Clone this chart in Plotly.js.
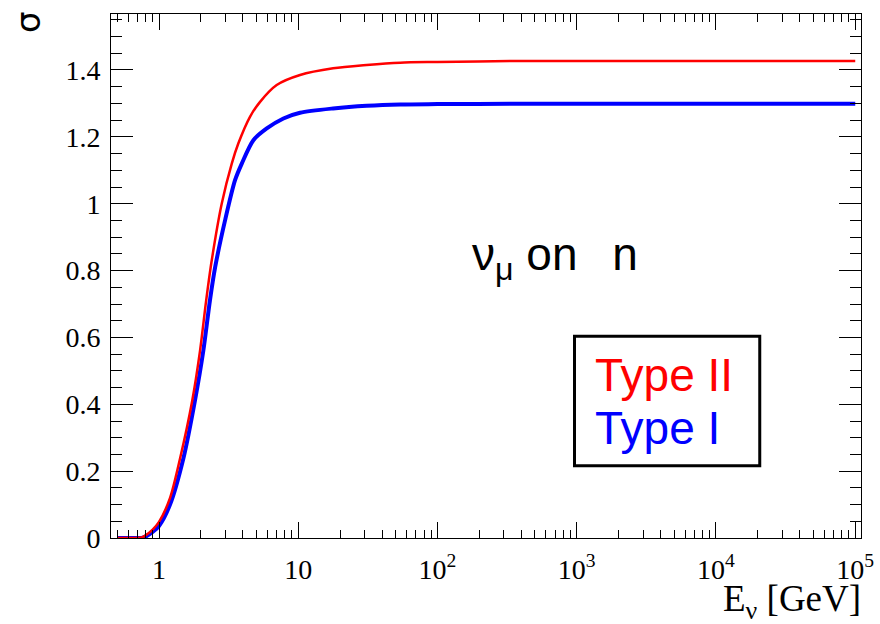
<!DOCTYPE html>
<html>
<head>
<meta charset="utf-8">
<script src="https://cdn.plot.ly/plotly-3.0.1.min.js"></script>
<style>html,body{margin:0;padding:0;background:#fff;}#chart{width:880px;height:624px;}</style>
</head>
<body>
<div id="chart"></div>
<script>
// Neutrino energy (GeV) and cross sections
const energyTypeII = [0.5, 0.6, 0.7, 0.75, 0.8, 0.9, 1.0, 1.2, 1.42, 1.73, 1.97, 2.18, 2.39, 2.82, 3.33, 3.71, 4.5, 5.3, 7.0, 10.3, 17.8, 31, 54, 100, 360, 1000, 10000, 100000];
const sigmaTypeII  = [0, 0, 0, 0.002, 0.008, 0.025, 0.048, 0.12, 0.24, 0.41, 0.56, 0.71, 0.83, 1.00, 1.12, 1.18, 1.26, 1.304, 1.355, 1.385, 1.405, 1.415, 1.422, 1.424, 1.427, 1.427, 1.427, 1.427];

const energyTypeI = [0.5, 0.6, 0.7, 0.75, 0.8, 0.9, 1.0, 1.2, 1.5, 1.81, 2.08, 2.32, 2.53, 2.98, 3.52, 3.93, 4.76, 5.94, 7.82, 10.3, 17.8, 31, 54, 100, 360, 1000, 10000, 100000];
const sigmaTypeI  = [0, 0, 0, 0, 0.004, 0.018, 0.036, 0.10, 0.24, 0.41, 0.56, 0.71, 0.81, 0.95, 1.071, 1.12, 1.19, 1.225, 1.255, 1.272, 1.285, 1.293, 1.297, 1.298, 1.299, 1.299, 1.299, 1.299];

const xTickVals = [1, 10, 100, 1000, 10000, 100000];
const xTickText = ['1', '10', '10<sup>2</sup>', '10<sup>3</sup>', '10<sup>4</sup>', '10<sup>5</sup>'];

const seriesNames = ['Type II', 'Type I'];
const seriesColors = ['#ff0000', '#0000ff'];

const traces = [
  {x: energyTypeI, y: sigmaTypeI, type: 'scatter', mode: 'lines', name: seriesNames[1],
   line: {color: seriesColors[1], width: 4, shape: 'spline', smoothing: 0.8}, showlegend: false},
  {x: energyTypeII, y: sigmaTypeII, type: 'scatter', mode: 'lines', name: seriesNames[0],
   line: {color: seriesColors[0], width: 2.5, shape: 'spline', smoothing: 0.8}, showlegend: false}
];

const serif = 'Liberation Serif, Times New Roman, serif';
const sans = 'Liberation Sans, Arial, sans-serif';

const layout = {
  width: 880, height: 624,
  margin: {l: 111, r: 19, t: 14, b: 86},
  paper_bgcolor: '#ffffff', plot_bgcolor: '#ffffff',
  showlegend: false,
  xaxis: {
    type: 'log', range: [Math.log10(0.452), Math.log10(1.1e5)],
    showgrid: false, zeroline: false,
    showline: true, linecolor: '#000', linewidth: 1, mirror: 'allticks',
    ticks: 'inside', ticklen: 16, tickwidth: 1, tickcolor: '#000',
    tickmode: 'array', tickvals: xTickVals, ticktext: xTickText,
    tickfont: {family: serif, size: 28, color: '#000'},
    ticklabelstandoff: 6,
    minor: {ticks: 'inside', ticklen: 8, tickwidth: 1, tickcolor: '#000', dtick: 'D1', showgrid: false}
  },
  yaxis: {
    range: [0, 1.5675],
    showgrid: false, zeroline: false,
    showline: true, linecolor: '#000', linewidth: 1, mirror: 'allticks',
    ticks: 'inside', ticklen: 22, tickwidth: 1, tickcolor: '#000',
    tick0: 0, dtick: 0.2,
    tickfont: {family: serif, size: 28, color: '#000'},
    ticklabelstandoff: 4,
    minor: {ticks: 'inside', ticklen: 11, tickwidth: 1, tickcolor: '#000', dtick: 0.05, showgrid: false}
  },
  shapes: [
    {type: 'rect', xref: 'paper', yref: 'paper', x0: 0.618, x1: 0.865, y0: 0.138, y1: 0.385,
     line: {color: '#000', width: 3}, fillcolor: 'rgba(0,0,0,0)'}
  ],
  annotations: [
    {xref: 'paper', yref: 'paper', x: 0.6427, y: (538 - 375) / 524, xanchor: 'left', yanchor: 'middle',
     text: seriesNames[0], showarrow: false, font: {family: sans, size: 46, color: seriesColors[0]}},
    {xref: 'paper', yref: 'paper', x: 0.6427, y: (538 - 428) / 524, xanchor: 'left', yanchor: 'middle',
     text: seriesNames[1], showarrow: false, font: {family: sans, size: 46, color: seriesColors[1]}},
    {xref: 'paper', yref: 'paper', x: (470 - 111) / 750, y: (538 - 257) / 524, xanchor: 'left', yanchor: 'middle',
     text: 'ν<sub>μ</sub> on\u00a0\u00a0\u2009n', showarrow: false, font: {family: sans, size: 46, color: '#000'}},
    {xref: 'paper', yref: 'paper', x: (863 - 111) / 750, y: (538 - 601) / 524, xanchor: 'right', yanchor: 'middle',
     text: 'E<sub>ν</sub> [GeV]', showarrow: false, font: {family: serif, size: 37, color: '#000'}},
    {xref: 'paper', yref: 'paper', x: (28 - 111) / 750, y: (538 - 22) / 524, xanchor: 'center', yanchor: 'middle',
     text: 'σ', textangle: -90, showarrow: false, font: {family: 'DejaVu Sans, sans-serif', size: 34, color: '#000'}}
  ]
};

Plotly.newPlot('chart', traces, layout, {displayModeBar: false, staticPlot: true});
</script>
</body>
</html>
